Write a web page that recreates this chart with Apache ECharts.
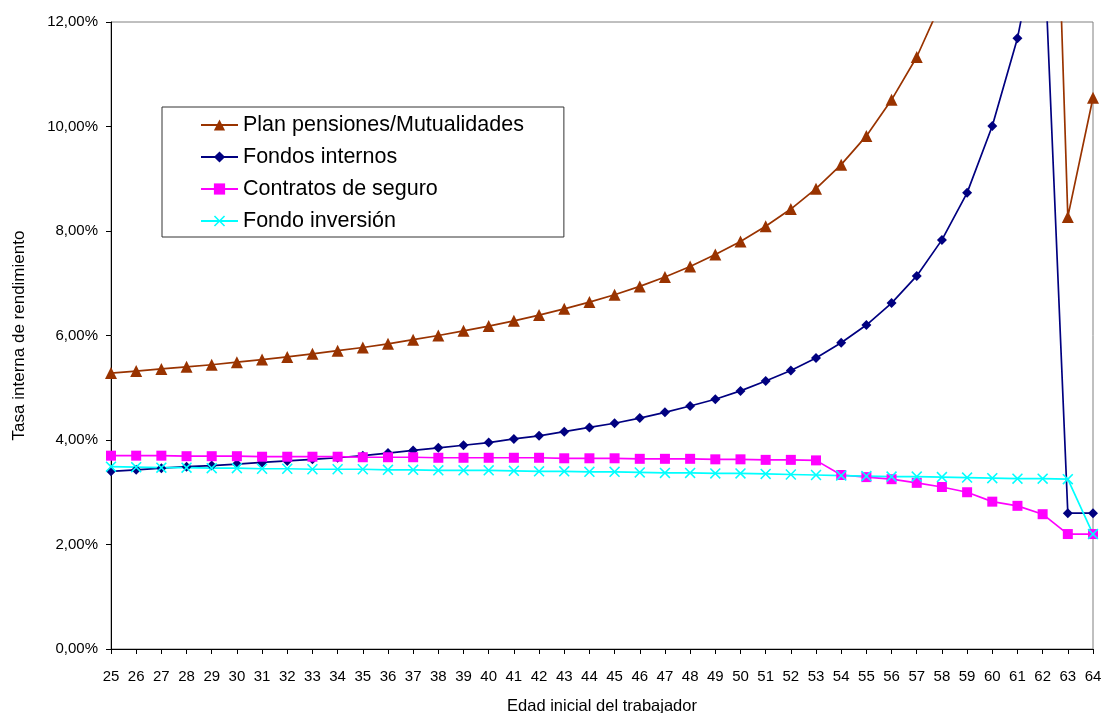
<!DOCTYPE html>
<html>
<head>
<meta charset="utf-8">
<script src="https://cdn.jsdelivr.net/npm/echarts@6/dist/echarts.min.js"></script>
<style>html,body{margin:0;padding:0;background:#fff;}#c{width:1104px;height:713px;}</style>
</head>
<body>
<div id="c"></div>
<script>
var ages = ['25','26','27','28','29','30','31','32','33','34','35','36','37','38','39','40','41','42','43','44','45','46','47','48','49','50','51','52','53','54','55','56','57','58','59','60','61','62','63','64'];
var planPensiones = [5.28,5.32,5.36,5.40,5.44,5.49,5.54,5.59,5.65,5.71,5.77,5.84,5.92,6.00,6.09,6.18,6.28,6.39,6.51,6.64,6.78,6.94,7.12,7.32,7.55,7.80,8.09,8.42,8.81,9.27,9.82,10.51,11.33,12.40,13.80,15.60,18.30,23.30,8.27,10.55];
var fondosInternos = [3.40,3.43,3.46,3.49,3.51,3.54,3.57,3.60,3.63,3.66,3.70,3.75,3.80,3.85,3.90,3.95,4.02,4.08,4.16,4.24,4.32,4.42,4.53,4.65,4.78,4.94,5.13,5.33,5.57,5.86,6.20,6.62,7.14,7.83,8.73,10.01,11.69,14.10,2.60,2.60];
var contratosSeguro = [3.70,3.70,3.70,3.69,3.69,3.69,3.68,3.68,3.68,3.68,3.67,3.67,3.67,3.66,3.66,3.66,3.66,3.66,3.65,3.65,3.65,3.64,3.64,3.64,3.63,3.63,3.62,3.62,3.61,3.33,3.29,3.25,3.18,3.10,3.00,2.82,2.74,2.58,2.20,2.20];
var fondoInversion = [3.49,3.48,3.47,3.47,3.46,3.46,3.45,3.45,3.44,3.44,3.44,3.43,3.43,3.42,3.42,3.42,3.41,3.40,3.40,3.39,3.39,3.38,3.37,3.37,3.36,3.36,3.35,3.34,3.33,3.32,3.31,3.30,3.30,3.29,3.28,3.27,3.26,3.26,3.25,2.20];
var seriesNames = ['Plan pensiones/Mutualidades','Fondos internos','Contratos de seguro','Fondo inversión'];
var yTicks = {min:0, max:12, interval:2};

var FONT = '"Liberation Sans", Arial, sans-serif';
var crossPath = 'path://M0,1L1,0L5,4L9,0L10,1L6,5L10,9L9,10L5,6L1,10L0,9L4,5Z';

var chart = echarts.init(document.getElementById('c'), null, {renderer:'canvas'});
function mk(name, data, color, symbol, size){
  return {
    name: name, type: 'line', data: data, symbol: symbol, symbolSize: size,
    showAllSymbol: true, clip: true, animation: false,
    lineStyle: {color: color, width: 1.7},
    itemStyle: {color: color},
    emphasis: {disabled: true}
  };
}
chart.setOption({
  animation: false,
  backgroundColor: '#ffffff',
  textStyle: {fontFamily: FONT},
  grid: {left: 111, top: 22, right: 11, bottom: 64, outerBoundsMode: 'none', containLabel: false,
    show: true, borderColor: '#808080', borderWidth: 1, backgroundColor: '#ffffff'},
  legend: {
    orient: 'vertical', left: 162, top: 107,
    padding: [7, 40, 5, 38],
    backgroundColor: '#ffffff', borderColor: '#333333', borderWidth: 1, borderRadius: 0,
    itemWidth: 37, itemHeight: 14, itemGap: 10,
    textStyle: {fontFamily: FONT, fontSize: 21.5, color: '#000', lineHeight: 22},
    data: seriesNames
  },
  xAxis: {
    type: 'category', data: ages, boundaryGap: false,
    name: 'Edad inicial del trabajador', nameLocation: 'middle', nameGap: 49,
    nameTextStyle: {fontFamily: FONT, fontSize: 16.5, color: '#000'},
    axisLine: {lineStyle: {color: '#000', width: 1}},
    axisTick: {show: true, interval: 0, length: 5, lineStyle: {color: '#000'}},
    axisLabel: {interval: 0, fontFamily: FONT, fontSize: 15, color: '#000', margin: 20},
    splitLine: {show: false}
  },
  yAxis: {
    type: 'value', min: yTicks.min, max: yTicks.max, interval: yTicks.interval,
    name: 'Tasa interna de rendimiento', nameLocation: 'middle', nameGap: 83,
    nameTextStyle: {fontFamily: FONT, fontSize: 17, color: '#000'},
    axisLine: {show: true, lineStyle: {color: '#000', width: 1}},
    axisTick: {show: true, length: 5, lineStyle: {color: '#000'}},
    axisLabel: {fontFamily: FONT, fontSize: 15, color: '#000', margin: 13,
      formatter: function(v){ return v.toFixed(2).replace('.', ',') + '%'; }},
    splitLine: {show: false}
  },
  series: [
    mk(seriesNames[0], planPensiones, '#993300', 'triangle', 12),
    mk(seriesNames[1], fondosInternos, '#000080', 'diamond', 10),
    mk(seriesNames[2], contratosSeguro, '#FF00FF', 'rect', 10),
    mk(seriesNames[3], fondoInversion, '#00FFFF', crossPath, 11)
  ]
});
</script>
</body>
</html>
